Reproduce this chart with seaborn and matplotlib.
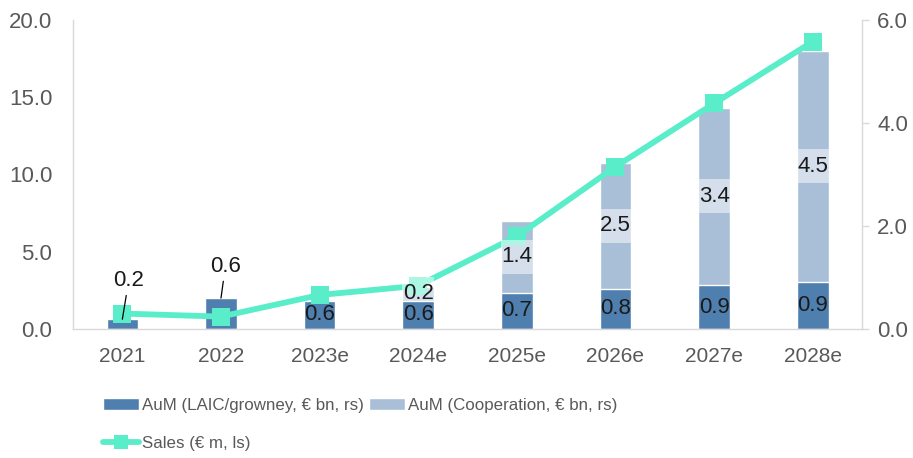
import numpy as np
import matplotlib
matplotlib.use("Agg")
import matplotlib.pyplot as plt
import seaborn as sns
from matplotlib import font_manager
from matplotlib.lines import Line2D
from matplotlib.patches import Patch

# values
years = ["2021", "2022", "2023e", "2024e", "2025e", "2026e", "2027e", "2028e"]
aum_laic = [0.19, 0.60, 0.55, 0.55, 0.70, 0.78, 0.85, 0.92]   # € bn, right axis
aum_coop = [0.00, 0.00, 0.00, 0.27, 1.40, 2.45, 3.45, 4.48]   # € bn, right axis
sales = [1.0, 0.8, 2.2, 2.8, 6.0, 10.5, 14.6, 18.6]           # € m, left axis
laic_labels = ["0.2", "0.6", "0.6", "0.6", "0.7", "0.8", "0.9", "0.9"]
coop_labels = ["", "", "", "0.2", "1.4", "2.5", "3.4", "4.5"]

DARK = "#4f7faf"
LIGHT = "#a9bfd7"
MINT = "#5aedca"
GRID = "#d9d9d9"
TXT = "#595959"

sns.set_theme(style="white")
plt.rcParams["font.family"] = ["Liberation Sans", "DejaVu Sans"]

installed = {f.name for f in font_manager.fontManager.ttflist}
if "Liberation Sans Narrow" in installed:
    legend_font, legend_size, legend_sp = "Liberation Sans Narrow", 14.3, 0.75
else:
    legend_font, legend_size, legend_sp = "Liberation Sans", 12.2, 1.35

total = [a + b for a, b in zip(aum_laic, aum_coop)]
x = np.arange(len(years))

fig = plt.figure(figsize=(9.13, 4.58), dpi=100)
ax = fig.add_axes([0.08, 0.2817, 0.8642, 0.6747])
ax2 = ax.twinx()

# stacked bars on the AuM axis (shown on the right)
sns.barplot(x=years, y=total, color=LIGHT, saturation=1, width=0.32, ax=ax)
sns.barplot(x=years, y=aum_laic, color=DARK, saturation=1, width=0.32, ax=ax)

# sales line on the left axis, drawn above the bars
sns.lineplot(x=x, y=sales, ax=ax2, color=MINT, linewidth=4.2, marker="s",
             markersize=13, markeredgewidth=0, zorder=2)

ax.set_xlim(-0.5, len(years) - 0.5)
ax2.set_xlim(-0.5, len(years) - 0.5)
ax.set_ylim(0, 6)
ax2.set_ylim(0, 20)

# value labels (in AuM units, placed on the top axes so they cover the line)
for i in range(len(years)):
    if i >= 2:
        ax2.text(i, aum_laic[i] / 2, laic_labels[i], transform=ax.transData,
                 ha="center", va="center", fontsize=16, color="#1a1a1a", zorder=5)
    if coop_labels[i]:
        mid = aum_laic[i] + aum_coop[i] / 2
        bottom = max(mid - 0.33, aum_laic[i])
        ax2.bar(i, mid + 0.33 - bottom, bottom=bottom, width=0.32, color="white",
                alpha=0.5, linewidth=0, transform=ax.transData, zorder=4)
        ax2.text(i, mid, coop_labels[i], transform=ax.transData,
                 ha="center", va="center", fontsize=16, color="#1a1a1a", zorder=5)

for i, off in [(0, (4.6, 28)), (1, (3.2, 23))]:
    ax2.annotate(laic_labels[i], xy=(i, aum_laic[i]), xycoords=ax.transData,
                 xytext=off, textcoords="offset points", ha="center", va="center",
                 fontsize=16, color="#1a1a1a", zorder=5,
                 arrowprops=dict(arrowstyle="-", color="black", lw=0.9,
                                 shrinkA=1, shrinkB=0))

# axes styling
ax.yaxis.tick_right()
ax2.yaxis.tick_left()
ax.set_yticks([0, 2, 4, 6])
ax.set_yticklabels(["0.0", "2.0", "4.0", "6.0"])
ax2.set_yticks([0, 5, 10, 15, 20])
ax2.set_yticklabels(["0.0", "5.0", "10.0", "15.0", "20.0"])
ax.tick_params(axis="y", right=True, left=False, length=5, width=1, color=GRID,
               labelsize=16, labelcolor=TXT, pad=6)
ax2.tick_params(axis="y", left=True, right=False, length=0, labelsize=16,
                labelcolor=TXT, pad=15)
ax.tick_params(axis="x", length=0, pad=13, labelsize=15, labelcolor=TXT)
ax.set_xlabel("")
ax.set_ylabel("")
ax2.set_xlabel("")
ax2.set_ylabel("")

for side in ["left", "right", "bottom"]:
    ax.spines[side].set_color(GRID)
    ax.spines[side].set_linewidth(1)
ax.spines["top"].set_visible(False)
for s in ax2.spines.values():
    s.set_visible(False)

handles = [
    Patch(facecolor=DARK, label="AuM (LAIC/growney, € bn, rs)"),
    Line2D([], [], color=MINT, lw=4.2, marker="s", markersize=10,
           markeredgewidth=0, label="Sales (€ m, ls)"),
    Patch(facecolor=LIGHT, label="AuM (Cooperation, € bn, rs)"),
]
fig.legend(handles=handles, ncol=2, loc="upper left",
           bbox_to_anchor=(103 / 913, 1 - 398 / 458), frameon=False,
           prop={"family": [legend_font, "DejaVu Sans"], "size": legend_size},
           handlelength=2.1, handletextpad=0.2, columnspacing=0.3,
           labelspacing=legend_sp, borderpad=0, borderaxespad=0, labelcolor=TXT)

fig.savefig("out.png", dpi=100)
